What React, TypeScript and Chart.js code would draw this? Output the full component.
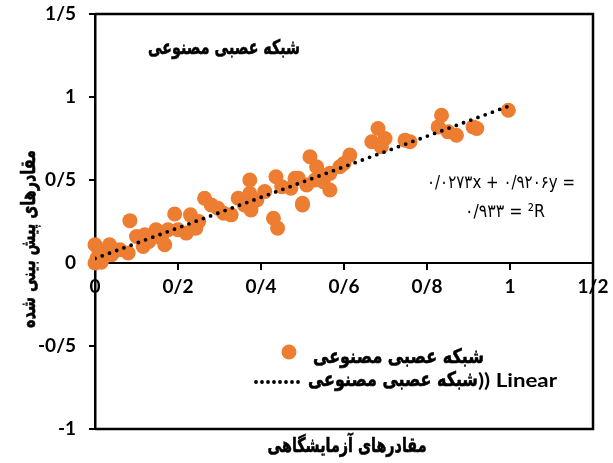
import { useEffect, useRef } from 'react';
import { Chart, registerables } from 'chart.js';

Chart.register(...registerables);

const seriesLabel = 'شبکه عصبی مصنوعی';
const trendLabel = 'شبکه عصبی مصنوعی)) Linear';
const chartTitle = 'شبکه عصبی مصنوعی';
const xTitle = 'مقادرهای آزمایشگاهی';
const yTitle = 'مقادرهای پیش بینی شده';
const equationLine = '۰/۰۲۷۳x + ۰/۹۲۰۶y =';
const r2Line = '۰/۹۳۳ = ²R';

// measured (laboratory) values
const labX = [
  0, 0, 0.015, 0.035, 0.02, 0.005, 0.01, 0.04, 0.06, 0.08,
  0.084, 0.1, 0.12, 0.116, 0.13, 0.147, 0.168, 0.176, 0.16, 0.192,
  0.2, 0.22, 0.23, 0.243, 0.25, 0.264, 0.28, 0.296, 0.31, 0.328,
  0.345, 0.36, 0.373, 0.373, 0.376, 0.39, 0.409, 0.43, 0.44, 0.436,
  0.45, 0.472, 0.482, 0.49, 0.5, 0.5, 0.51, 0.518, 0.534, 0.545,
  0.566, 0.566, 0.59, 0.614, 0.6, 0.667, 0.682, 0.69, 0.699, 0.747,
  0.759, 0.827, 0.835, 0.851, 0.871, 0.911, 0.92, 0.996, 0.53, 0.55,
];
// predicted values
const predY = [
  0.11, 0, 0.005, 0.11, 0.06, 0.03, 0.07, 0.05, 0.08, 0.06,
  0.255, 0.16, 0.17, 0.1, 0.13, 0.2, 0.11, 0.2, 0.15, 0.295,
  0.2, 0.18, 0.29, 0.21, 0.25, 0.39, 0.35, 0.33, 0.3, 0.29,
  0.39, 0.35, 0.5, 0.42, 0.32, 0.38, 0.43, 0.27, 0.21, 0.52,
  0.46, 0.45, 0.51, 0.51, 0.36, 0.35, 0.47, 0.64, 0.58, 0.53,
  0.44, 0.54, 0.58, 0.65, 0.6, 0.73, 0.81, 0.7, 0.75, 0.74,
  0.73, 0.82, 0.89, 0.79, 0.77, 0.82, 0.81, 0.92, 0.5, 0.49,
];

const trendX = [0, 1];
const trendY = [0.0273, 0.9479];

const xMin = 0, xMax = 1.2, xStep = 0.2;
const yMin = -1, yMax = 1.5, yStep = 0.5;

const ORANGE = '#ED7D31';
const PERSIAN_FONT = '"DejaVu Sans"';
const LATIN_FONT = 'Lato';

const fmt = (v: number) => String(Math.round(v * 10) / 10).replace('.', '/');

function drawFitted(
  ctx: CanvasRenderingContext2D,
  text: string,
  x: number,
  y: number,
  target: number,
  size: number,
  weight: string,
  family: string,
  align: CanvasTextAlign,
  rotate = 0,
  stroke = 0,
) {
  ctx.save();
  ctx.direction = 'ltr';
  ctx.font = `${weight} ${size}px ${family}`;
  const w = ctx.measureText(text).width;
  const sx = target / w;
  ctx.translate(x, y);
  if (rotate) ctx.rotate(rotate);
  ctx.scale(sx, 1);
  ctx.textAlign = align;
  ctx.textBaseline = 'middle';
  ctx.fillText(text, 0, 0);
  if (stroke > 0) {
    ctx.strokeStyle = ctx.fillStyle as string;
    ctx.lineWidth = stroke;
    ctx.lineJoin = 'round';
    ctx.strokeText(text, 0, 0);
  }
  ctx.restore();
}

const decorPlugin = {
  id: 'decor',
  afterDraw(chart: any) {
    const { ctx, chartArea } = chart;
    const { left, right, top, bottom } = chartArea;
    ctx.save();
    // box
    ctx.strokeStyle = '#000';
    ctx.lineWidth = 2.5;
    ctx.beginPath();
    ctx.moveTo(left, top);
    ctx.lineTo(right, top);
    ctx.lineTo(right, bottom);
    ctx.lineTo(left, bottom);
    ctx.stroke();

    ctx.fillStyle = '#000';

    // chart title inside plot
    drawFitted(ctx, chartTitle, 224, 49, 152, 20, 'bold', PERSIAN_FONT, 'center', 0, 0.6);
    // x axis title
    drawFitted(ctx, xTitle, 347, 447, 159, 20, 'bold', PERSIAN_FONT, 'center', 0, 0.6);
    // y axis title (rotated)
    drawFitted(ctx, yTitle, 30, 239, 178, 20, 'bold', PERSIAN_FONT, 'center', -Math.PI / 2, 0.6);

    // regression equation
    drawFitted(ctx, equationLine, 501, 183, 148, 18, 'normal', PERSIAN_FONT, 'center');
    drawFitted(ctx, r2Line, 505, 212, 80, 18, 'normal', PERSIAN_FONT, 'center');

    // legend
    const trendDs = chart.data.datasets[0];
    const pointDs = chart.data.datasets[1];
    ctx.fillStyle = ORANGE;
    ctx.beginPath();
    ctx.arc(289, 352, 7.5, 0, Math.PI * 2);
    ctx.fill();
    ctx.fillStyle = '#000';
    drawFitted(ctx, pointDs.label, 313, 358, 171, 20, 'bold', PERSIAN_FONT, 'left', 0, 0.6);

    ctx.strokeStyle = '#000';
    ctx.lineWidth = 3.8;
    ctx.lineCap = 'round';
    ctx.setLineDash([0, 6]);
    ctx.beginPath();
    ctx.moveTo(256, 382);
    ctx.lineTo(304, 382);
    ctx.stroke();
    ctx.setLineDash([]);

    const lbl: string = trendDs.label;
    const cut = lbl.indexOf('))');
    const persianPart = lbl.slice(0, cut);
    const latinPart = lbl.slice(cut);
    drawFitted(ctx, persianPart, 308, 381, 170, 20, 'bold', PERSIAN_FONT, 'left', 0, 0.6);
    drawFitted(ctx, latinPart, 478, 381, 79, 18, 'bold', LATIN_FONT, 'left');
    ctx.restore();
  },
};

export default function App() {
  const ref = useRef<HTMLCanvasElement | null>(null);
  useEffect(() => {
    if (!ref.current) return;
    const tickFont = { family: LATIN_FONT, size: 19, weight: 'bold' as const };
    const chart = new Chart(ref.current, {
      type: 'scatter',
      data: {
        datasets: [
          {
            type: 'line',
            label: trendLabel,
            data: trendX.map((x, i) => ({ x, y: trendY[i] })),
            borderColor: '#000',
            borderWidth: 3.8,
            borderDash: [0, 7.7],
            borderCapStyle: 'round',
            pointRadius: 0,
            fill: false,
            order: 0,
          } as any,
          {
            label: seriesLabel,
            data: labX.map((x, i) => ({ x, y: predY[i] })),
            backgroundColor: ORANGE,
            borderWidth: 0,
            pointRadius: 7.5,
            pointHoverRadius: 7.5,
            clip: false,
            order: 1,
          } as any,
        ],
      },
      options: {
        animation: false,
        responsive: false,
        events: [],
        layout: { padding: { top: 14, right: 20, bottom: 34, left: 0 } },
        plugins: { legend: { display: false }, tooltip: { enabled: false } },
        scales: {
          x: {
            type: 'linear',
            position: { y: 0 } as any,
            min: xMin,
            max: xMax,
            afterFit: (s: any) => { s.paddingLeft = 0; s.paddingRight = 0; },
            ticks: { stepSize: xStep, callback: (v: any) => fmt(Number(v)), font: tickFont, color: '#000', padding: 6, maxRotation: 0 },
            grid: { display: true, drawOnChartArea: false, drawTicks: true, tickLength: 6, color: '#000', lineWidth: 2 },
            border: { display: true, color: '#000', width: 2 },
          },
          y: {
            type: 'linear',
            min: yMin,
            max: yMax,
            afterFit: (s: any) => { s.width = 95; s.paddingTop = 0; s.paddingBottom = 0; },
            ticks: { stepSize: yStep, callback: (v: any) => fmt(Number(v)), font: tickFont, color: '#000', padding: 13 },
            grid: { display: true, drawOnChartArea: false, drawTicks: true, tickLength: 6, color: '#000', lineWidth: 2 },
            border: { display: true, color: '#000', width: 2.5 },
          },
        },
      } as any,
      plugins: [decorPlugin],
    });
    return () => chart.destroy();
  }, []);
  return (
    <div style={{ position: 'fixed', left: 0, top: 0, width: 613, height: 463, background: '#fff' }}>
      <canvas ref={ref} width={613} height={463} style={{ display: 'block' }} />
    </div>
  );
}
